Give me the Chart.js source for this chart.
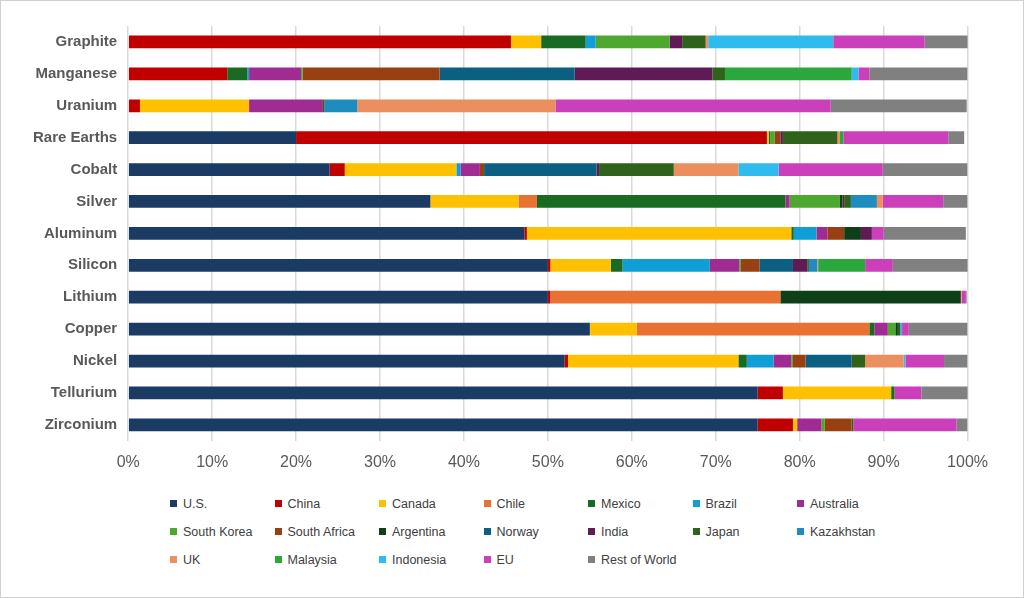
<!DOCTYPE html>
<html>
<head>
<meta charset="utf-8">
<script src="https://cdn.jsdelivr.net/npm/chart.js@4"></script>
<style>
  body { margin: 0; background: #fff; font-family: "Liberation Sans", Arial, sans-serif; }
  #frame { position: absolute; left: 0; top: 0; width: 1022px; height: 596px; border: 1px solid #d0d0d0; }
  #wrap { position: absolute; left: 0; top: 14px; width: 1000px; height: 470px; }
  #legend { position: absolute; left: 170px; top: 497px; display: grid; grid-template-columns: repeat(7, 104.5px); row-gap: 14px; font-size: 12.5px; color: #404040; }
  #legend span { display: inline-block; width: 7px; height: 7px; margin-right: 6px; vertical-align: 1px; }
</style>
</head>
<body>
<div id="frame"></div>
<div id="wrap"><canvas id="chart"></canvas></div>
<div id="legend"></div>
<script>
// minerals, top to bottom
const minerals = ["Graphite", "Manganese", "Uranium", "Rare Earths", "Cobalt", "Silver", "Aluminum", "Silicon", "Lithium", "Copper", "Nickel", "Tellurium", "Zirconium"];

// share of supply (%) per country, same order as minerals
const us          = [0, 0, 0, 20.0, 24.0, 36.0, 47.2, 50.0, 50.0, 55.0, 52.0, 75.0, 75.0];
const china       = [45.6, 11.8, 1.4, 56.1, 1.8, 0, 0.3, 0.3, 0.3, 0, 0.4, 3.0, 4.2];
const canada      = [3.6, 0, 13.0, 0.2, 13.3, 10.5, 31.5, 7.2, 0, 5.6, 20.3, 12.9, 0.5];
const chile       = [0, 0, 0, 0, 0, 2.2, 0, 0, 27.4, 27.7, 0, 0, 0];
const mexico      = [5.3, 2.4, 0, 0.2, 0, 29.6, 0.3, 1.4, 0, 0.6, 1.0, 0.4, 0];
const brazil      = [1.2, 0.2, 0, 0, 0.5, 0, 2.7, 10.4, 0, 0, 3.2, 0, 0];
const australia   = [0, 6.2, 8.8, 0, 2.3, 0.5, 1.3, 3.5, 0, 1.6, 2.1, 0, 2.9];
const southKorea  = [8.8, 0.2, 0, 0.5, 0, 6.0, 0, 0.2, 0, 0.9, 0.2, 0, 0.4];
const southAfrica = [0, 16.3, 0, 0.7, 0.5, 0, 2.0, 2.2, 0, 0, 1.5, 0, 3.2];
const argentina   = [0, 0, 0, 0, 0, 0.3, 2.0, 0, 21.5, 0.3, 0, 0, 0];
const norway      = [0, 16.1, 0, 0, 13.4, 0, 0, 4.0, 0, 0, 5.5, 0, 0];
const india       = [1.5, 16.4, 0, 0.3, 0.3, 0.2, 1.3, 1.7, 0, 0, 0, 0, 0];
const japan       = [2.8, 1.5, 0.2, 6.5, 8.9, 0.8, 0, 0.2, 0, 0.3, 1.6, 0, 0.2];
const kazakhstan  = [0, 0, 3.9, 0, 0, 3.1, 0, 1.0, 0, 0, 0, 0, 0];
const uk          = [0.3, 0, 23.6, 0.3, 7.7, 0.7, 0, 0.1, 0.1, 0, 4.6, 0, 0];
const malaysia    = [0, 15.1, 0, 0.4, 0, 0, 0, 5.6, 0, 0, 0, 0, 0];
const indonesia   = [14.9, 0.8, 0, 0, 4.8, 0, 0, 0, 0, 0.2, 0.2, 0, 0];
const eu          = [10.9, 1.3, 32.8, 12.5, 12.4, 7.2, 1.4, 3.3, 0.5, 0.8, 4.6, 3.2, 12.3];
const restOfWorld = [5.2, 11.7, 16.2, 1.9, 10.1, 2.9, 9.8, 9.0, 0.1, 7.0, 2.8, 5.6, 1.3];

const xTicks = [0, 10, 20, 30, 40, 50, 60, 70, 80, 90, 100];

const series = [
    ["U.S.", us, "#1a3b63"],
    ["China", china, "#c00000"],
    ["Canada", canada, "#ffc000"],
    ["Chile", chile, "#e97132"],
    ["Mexico", mexico, "#196b24"],
    ["Brazil", brazil, "#0f9ed5"],
    ["Australia", australia, "#a02b93"],
    ["South Korea", southKorea, "#4ea72e"],
    ["South Africa", southAfrica, "#974011"],
    ["Argentina", argentina, "#0e3f17"],
    ["Norway", norway, "#0b5f80"],
    ["India", india, "#601b57"],
    ["Japan", japan, "#2f631b"],
    ["Kazakhstan", kazakhstan, "#1f8cc0"],
    ["UK", uk, "#ec8f5e"],
    ["Malaysia", malaysia, "#2aa83e"],
    ["Indonesia", indonesia, "#2fbbee"],
    ["EU", eu, "#cc3fbb"],
    ["Rest of World", restOfWorld, "#808080"]
];

// legend in a 7-column grid like the original
const legendEl = document.getElementById("legend");
series.forEach(([name, , color]) => {
    const item = document.createElement("div");
    item.innerHTML = `<span style="background:${color}"></span>${name}`;
    legendEl.appendChild(item);
});

new Chart(document.getElementById("chart"), {
    type: "bar",
    data: {
        labels: minerals,
        datasets: series.map(([name, values, color]) => ({
            label: name,
            data: values,
            backgroundColor: color,
            borderWidth: 0,
            barPercentage: 0.4,
            categoryPercentage: 1
        }))
    },
    options: {
        indexAxis: "y",
        responsive: true,
        maintainAspectRatio: false,
        animation: false,
        layout: { padding: { left: 30, right: 10 } },
        scales: {
            x: {
                stacked: true,
                min: 0,
                max: 100,
                afterBuildTicks: axis => { axis.ticks = xTicks.map(v => ({ value: v })); },
                grid: { color: "#d9d9d9", lineWidth: 1.5, drawTicks: false },
                border: { display: false },
                ticks: {
                    padding: 12,
                    color: "#595959",
                    font: { family: "Liberation Sans", size: 16 },
                    callback: v => v + "%"
                }
            },
            y: {
                stacked: true,
                grid: { display: false },
                border: { display: false },
                ticks: {
                    color: "#595959",
                    font: { family: "Liberation Sans", size: 15, weight: "bold" }
                }
            }
        },
        plugins: { legend: { display: false }, tooltip: { enabled: false } }
    }
});
</script>
</body>
</html>
